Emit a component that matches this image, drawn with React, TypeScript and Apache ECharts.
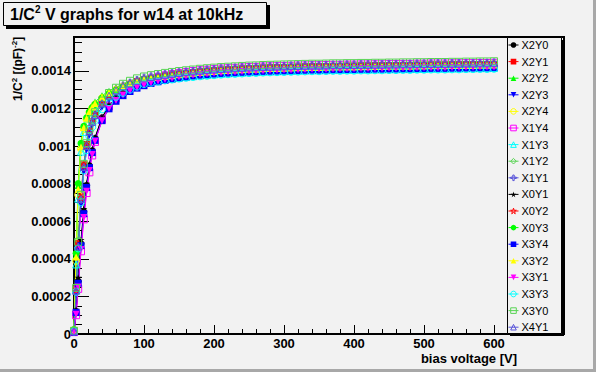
import React, { useEffect, useRef } from "react";
import * as echarts from "echarts";

// bias voltage [V]
const voltages = [
  0, 3, 6, 10, 14, 18, 22, 26, 30, 40, 50, 60, 70, 80, 90,
  100, 110, 120, 130, 140, 150, 160, 170, 180, 190,
  200, 210, 220, 230, 240, 250, 260, 270, 280, 290,
  300, 310, 320, 330, 340, 350, 360, 370, 380, 390,
  400, 410, 420, 430, 440, 450, 460, 470, 480, 490,
  500, 510, 520, 530, 540, 550, 560, 570, 580, 590,
  600,
];

// 1/C^2 values in units of 1e-6 (pF)^-2
const UNIT = 1e-6;

const X2Y0 = [12, 120, 280, 480, 650, 790, 895, 975, 1040, 1150, 1214, 1255, 1286, 1309, 1327,
  1337, 1349, 1358, 1366, 1373, 1379, 1384, 1389, 1392, 1396,
  1399, 1402, 1404, 1406, 1408, 1410, 1411, 1413, 1414, 1415,
  1416, 1417, 1418, 1419, 1420, 1420, 1421, 1422, 1422, 1423,
  1423, 1424, 1424, 1425, 1425, 1426, 1426, 1427, 1427, 1428,
  1428, 1429, 1429, 1429, 1430, 1430, 1431, 1431, 1432, 1432,
  1433];
const X2Y1 = [16, 240, 480, 730, 900, 1008, 1080, 1130, 1165, 1225, 1264, 1292, 1313, 1329, 1343,
  1354, 1360, 1367, 1373, 1378, 1383, 1387, 1391, 1394, 1398,
  1401, 1404, 1406, 1408, 1410, 1411, 1413, 1415, 1416, 1417,
  1418, 1419, 1420, 1421, 1422, 1422, 1423, 1424, 1424, 1425,
  1425, 1426, 1426, 1427, 1427, 1428, 1428, 1429, 1429, 1430,
  1430, 1431, 1431, 1431, 1432, 1432, 1433, 1433, 1434, 1434,
  1435];
const X2Y2 = [22, 420, 790, 1010, 1108, 1158, 1192, 1216, 1234, 1268, 1292, 1312, 1328, 1341, 1352,
  1362, 1367, 1371, 1376, 1380, 1385, 1389, 1393, 1397, 1400,
  1403, 1406, 1408, 1410, 1412, 1414, 1415, 1417, 1418, 1419,
  1420, 1421, 1422, 1423, 1424, 1424, 1425, 1426, 1426, 1427,
  1427, 1428, 1428, 1429, 1429, 1430, 1430, 1431, 1431, 1432,
  1432, 1433, 1433, 1433, 1434, 1434, 1435, 1435, 1436, 1436,
  1437];
const X2Y3 = [14, 210, 440, 690, 865, 980, 1058, 1110, 1147, 1208, 1248, 1276, 1297, 1313, 1328,
  1342, 1349, 1355, 1361, 1366, 1371, 1375, 1379, 1383, 1386,
  1389, 1392, 1394, 1396, 1398, 1400, 1401, 1403, 1404, 1405,
  1406, 1407, 1408, 1409, 1410, 1410, 1411, 1412, 1412, 1413,
  1413, 1414, 1414, 1415, 1415, 1416, 1416, 1417, 1417, 1418,
  1418, 1419, 1419, 1419, 1420, 1420, 1421, 1421, 1422, 1422,
  1423];
const X2Y4 = [20, 390, 740, 985, 1090, 1142, 1178, 1203, 1221, 1255, 1280, 1300, 1316, 1329, 1340,
  1354, 1359, 1363, 1368, 1372, 1377, 1381, 1385, 1389, 1392,
  1395, 1398, 1400, 1402, 1404, 1406, 1407, 1409, 1410, 1411,
  1412, 1413, 1414, 1415, 1416, 1416, 1417, 1418, 1418, 1419,
  1419, 1420, 1420, 1421, 1421, 1422, 1422, 1423, 1423, 1424,
  1424, 1425, 1425, 1425, 1426, 1426, 1427, 1427, 1428, 1428,
  1429];
const X1Y4 = [10, 100, 240, 440, 610, 750, 860, 950, 1022, 1140, 1210, 1254, 1287, 1312, 1332,
  1347, 1359, 1368, 1376, 1383, 1389, 1394, 1399, 1403, 1406,
  1409, 1412, 1414, 1416, 1418, 1420, 1421, 1423, 1424, 1425,
  1426, 1427, 1428, 1429, 1430, 1430, 1431, 1432, 1432, 1433,
  1433, 1434, 1434, 1435, 1435, 1436, 1436, 1437, 1437, 1438,
  1438, 1439, 1439, 1439, 1440, 1440, 1441, 1441, 1442, 1442,
  1443];
const X1Y3 = [18, 370, 720, 970, 1075, 1125, 1160, 1185, 1203, 1238, 1264, 1284, 1300, 1313, 1324,
  1340, 1345, 1349, 1354, 1358, 1363, 1367, 1371, 1375, 1378,
  1381, 1384, 1386, 1388, 1390, 1392, 1393, 1395, 1396, 1397,
  1398, 1399, 1400, 1401, 1402, 1402, 1403, 1404, 1404, 1405,
  1405, 1406, 1406, 1407, 1407, 1408, 1408, 1409, 1409, 1410,
  1410, 1411, 1411, 1411, 1412, 1412, 1413, 1413, 1414, 1414,
  1415];
const X1Y2 = [15, 250, 500, 745, 905, 1010, 1082, 1130, 1164, 1224, 1263, 1291, 1312, 1328, 1342,
  1353, 1360, 1366, 1372, 1377, 1382, 1386, 1390, 1394, 1397,
  1400, 1403, 1405, 1407, 1409, 1411, 1412, 1414, 1415, 1416,
  1417, 1418, 1419, 1420, 1421, 1421, 1422, 1423, 1423, 1424,
  1424, 1425, 1425, 1426, 1426, 1427, 1427, 1428, 1428, 1429,
  1429, 1430, 1430, 1430, 1431, 1431, 1432, 1432, 1433, 1433,
  1434];
const X1Y1 = [15, 220, 460, 715, 888, 1002, 1080, 1132, 1170, 1232, 1272, 1300, 1321, 1337, 1351,
  1364, 1371, 1377, 1383, 1388, 1393, 1397, 1401, 1405, 1408,
  1411, 1414, 1416, 1418, 1420, 1422, 1423, 1425, 1426, 1427,
  1428, 1429, 1430, 1431, 1432, 1432, 1433, 1434, 1434, 1435,
  1435, 1436, 1436, 1437, 1437, 1438, 1438, 1439, 1439, 1440,
  1440, 1441, 1441, 1441, 1442, 1442, 1443, 1443, 1444, 1444,
  1445];
const X0Y1 = [11, 130, 300, 500, 665, 800, 900, 980, 1045, 1152, 1216, 1257, 1288, 1311, 1329,
  1340, 1352, 1361, 1369, 1376, 1382, 1387, 1392, 1396, 1399,
  1402, 1405, 1407, 1409, 1411, 1413, 1414, 1416, 1417, 1418,
  1419, 1420, 1421, 1422, 1423, 1423, 1424, 1425, 1425, 1426,
  1426, 1427, 1427, 1428, 1428, 1429, 1429, 1430, 1430, 1431,
  1431, 1432, 1432, 1432, 1433, 1433, 1434, 1434, 1435, 1435,
  1436];
const X0Y2 = [16, 235, 475, 725, 895, 1005, 1079, 1130, 1167, 1228, 1268, 1296, 1317, 1333, 1346,
  1358, 1365, 1371, 1377, 1382, 1387, 1391, 1395, 1399, 1402,
  1405, 1408, 1410, 1412, 1414, 1416, 1417, 1419, 1420, 1421,
  1422, 1423, 1424, 1425, 1426, 1426, 1427, 1428, 1428, 1429,
  1429, 1430, 1430, 1431, 1431, 1432, 1432, 1433, 1433, 1434,
  1434, 1435, 1435, 1435, 1436, 1436, 1437, 1437, 1438, 1438,
  1439];
const X0Y3 = [24, 430, 800, 1015, 1105, 1150, 1182, 1205, 1222, 1255, 1279, 1298, 1314, 1327, 1338,
  1352, 1357, 1361, 1366, 1370, 1375, 1379, 1383, 1387, 1390,
  1393, 1396, 1398, 1400, 1402, 1404, 1405, 1407, 1408, 1409,
  1410, 1411, 1412, 1413, 1414, 1414, 1415, 1416, 1416, 1417,
  1417, 1418, 1418, 1419, 1419, 1420, 1420, 1421, 1421, 1422,
  1422, 1423, 1423, 1423, 1424, 1424, 1425, 1425, 1426, 1426,
  1427];
const X3Y4 = [10, 115, 270, 470, 640, 780, 885, 965, 1030, 1135, 1198, 1238, 1268, 1290, 1308,
  1321, 1333, 1342, 1350, 1357, 1363, 1368, 1373, 1377, 1380,
  1383, 1386, 1388, 1390, 1392, 1394, 1395, 1397, 1398, 1399,
  1400, 1401, 1402, 1403, 1404, 1404, 1405, 1406, 1406, 1407,
  1407, 1408, 1408, 1409, 1409, 1410, 1410, 1411, 1411, 1412,
  1412, 1413, 1413, 1413, 1414, 1414, 1415, 1415, 1416, 1416,
  1417];
const X3Y2 = [21, 410, 770, 995, 1098, 1148, 1184, 1208, 1226, 1260, 1285, 1305, 1321, 1334, 1345,
  1356, 1361, 1365, 1370, 1374, 1379, 1383, 1387, 1391, 1394,
  1397, 1400, 1402, 1404, 1406, 1408, 1409, 1411, 1412, 1413,
  1414, 1415, 1416, 1417, 1418, 1418, 1419, 1420, 1420, 1421,
  1421, 1422, 1422, 1423, 1423, 1424, 1424, 1425, 1425, 1426,
  1426, 1427, 1427, 1427, 1428, 1428, 1429, 1429, 1430, 1430,
  1431];
const X3Y1 = [10, 105, 250, 450, 620, 760, 870, 955, 1025, 1135, 1200, 1242, 1272, 1294, 1312,
  1325, 1337, 1346, 1354, 1361, 1367, 1372, 1377, 1381, 1384,
  1387, 1390, 1392, 1394, 1396, 1398, 1399, 1401, 1402, 1403,
  1404, 1405, 1406, 1407, 1408, 1408, 1409, 1410, 1410, 1411,
  1411, 1412, 1412, 1413, 1413, 1414, 1414, 1415, 1415, 1416,
  1416, 1417, 1417, 1417, 1418, 1418, 1419, 1419, 1420, 1420,
  1421];
const X3Y3 = [14, 225, 455, 700, 870, 978, 1050, 1100, 1135, 1195, 1234, 1262, 1283, 1300, 1316,
  1330, 1337, 1343, 1349, 1354, 1359, 1363, 1367, 1371, 1374,
  1377, 1380, 1382, 1384, 1386, 1388, 1389, 1391, 1392, 1393,
  1394, 1395, 1396, 1397, 1398, 1398, 1399, 1400, 1400, 1401,
  1401, 1402, 1402, 1403, 1403, 1404, 1404, 1405, 1405, 1406,
  1406, 1407, 1407, 1407, 1408, 1408, 1409, 1409, 1410, 1410,
  1411];
const X3Y0 = [17, 245, 490, 740, 905, 1015, 1090, 1142, 1180, 1242, 1282, 1310, 1331, 1347, 1360,
  1370, 1377, 1383, 1389, 1394, 1399, 1403, 1407, 1411, 1414,
  1417, 1420, 1422, 1424, 1426, 1428, 1429, 1431, 1432, 1433,
  1434, 1435, 1436, 1437, 1438, 1438, 1439, 1440, 1440, 1441,
  1441, 1442, 1442, 1443, 1443, 1444, 1444, 1445, 1445, 1446,
  1446, 1447, 1447, 1447, 1448, 1448, 1449, 1449, 1450, 1450,
  1451];
const X4Y1 = [15, 230, 465, 718, 888, 1000, 1076, 1128, 1165, 1228, 1268, 1296, 1317, 1333, 1347,
  1360, 1367, 1373, 1379, 1384, 1389, 1393, 1397, 1401, 1404,
  1407, 1410, 1412, 1414, 1416, 1418, 1419, 1421, 1422, 1423,
  1424, 1425, 1426, 1427, 1428, 1428, 1429, 1430, 1430, 1431,
  1431, 1432, 1432, 1433, 1433, 1434, 1434, 1435, 1435, 1436,
  1436, 1437, 1437, 1437, 1438, 1438, 1439, 1439, 1440, 1440,
  1441];

const seriesNames = [
  "X2Y0", "X2Y1", "X2Y2", "X2Y3", "X2Y4", "X1Y4", "X1Y3", "X1Y2", "X1Y1",
  "X0Y1", "X0Y2", "X0Y3", "X3Y4", "X3Y2", "X3Y1", "X3Y3", "X3Y0", "X4Y1",
];
const seriesValues = [
  X2Y0, X2Y1, X2Y2, X2Y3, X2Y4, X1Y4, X1Y3, X1Y2, X1Y1,
  X0Y1, X0Y2, X0Y3, X3Y4, X3Y2, X3Y1, X3Y3, X3Y0, X4Y1,
];

const yTickLabels = ["0", "0.0002", "0.0004", "0.0006", "0.0008", "0.001", "0.0012", "0.0014"];
const xTickLabels = ["0", "100", "200", "300", "400", "500", "600"];

// ROOT colour cycle 1..9 and marker cycle 20..30
const palette = ["#000000", "#ff0000", "#00ff00", "#0000ff", "#ffff00", "#ff00ff", "#00ffff", "#59d454", "#5954d9"];
const CROSS = "path://M3,0H5V3H8V5H5V8H3V5H0V3H3Z";
const STAR = "path://M5,0L6.2,3.5H10L7,5.8L8.1,9.5L5,7.2L1.9,9.5L3,5.8L0,3.5H3.8Z";
const markers: { symbol: string; open: boolean; rotate: number }[] = [
  { symbol: "circle", open: false, rotate: 0 },
  { symbol: "rect", open: false, rotate: 0 },
  { symbol: "triangle", open: false, rotate: 0 },
  { symbol: "triangle", open: false, rotate: 180 },
  { symbol: "circle", open: true, rotate: 0 },
  { symbol: "rect", open: true, rotate: 0 },
  { symbol: "triangle", open: true, rotate: 0 },
  { symbol: "diamond", open: true, rotate: 0 },
  { symbol: CROSS, open: true, rotate: 0 },
  { symbol: STAR, open: false, rotate: 0 },
  { symbol: STAR, open: true, rotate: 0 },
];

const FONT = "'Liberation Sans', Arial, Helvetica, sans-serif";
const BG = "#f2f2f2";

function markerStyle(i: number) {
  const color = palette[i % palette.length];
  const m = markers[i % markers.length];
  const itemStyle = m.open
    ? { color: "rgba(0,0,0,0)", borderColor: color, borderWidth: 1 }
    : { color, borderColor: color, borderWidth: 0 };
  return { color, m, itemStyle };
}

export default function App() {
  const ref = useRef<HTMLDivElement>(null);
  useEffect(() => {
    if (!ref.current) return;
    const chart = echarts.init(ref.current, null, { renderer: "svg" });

    const series = seriesNames.map((name, i) => {
      const { color, m, itemStyle } = markerStyle(i);
      return {
        name,
        type: "line",
        data: voltages.map((v, k) => [v, seriesValues[i][k] * UNIT]),
        symbol: m.symbol,
        symbolSize: 7,
        symbolRotate: m.rotate,
        showAllSymbol: true,
        lineStyle: { color, width: 1 },
        itemStyle,
        emphasis: { disabled: true },
        silent: true,
        z: 2,
      };
    });

    const legendData = seriesNames.map((name, i) => {
      const { color, itemStyle } = markerStyle(i);
      return {
        name,
        itemStyle,
        lineStyle: { color, width: 1 },
      };
    });

    chart.setOption({
      animation: false,
      backgroundColor: BG,
      grid: {
        left: 74,
        top: 37,
        width: 490,
        height: 297,
        show: true,
        borderColor: "#000",
        borderWidth: 2,
        backgroundColor: BG,
      },
      xAxis: {
        type: "value",
        min: 0,
        max: 700,
        interval: 100,
        axisLine: { show: true, lineStyle: { color: "#000", width: 2 } },
        axisTick: { show: true, inside: true, length: 9, lineStyle: { color: "#000" } },
        minorTick: { show: true, splitNumber: 5, length: 5, lineStyle: { color: "#000" } },
        splitLine: { show: false },
        axisLabel: {
          margin: 3,
          color: "#000",
          fontFamily: FONT,
          fontWeight: "bold",
          fontSize: 13,
          formatter: (v: number) => (xTickLabels.includes(String(v)) ? String(v) : ""),
        },
      },
      yAxis: {
        type: "value",
        min: 0,
        max: 0.00158,
        interval: 0.0002,
        axisLine: { show: true, lineStyle: { color: "#000", width: 2 } },
        axisTick: { show: true, inside: true, length: 15, lineStyle: { color: "#000" } },
        minorTick: { show: true, splitNumber: 4, length: 8, lineStyle: { color: "#000" } },
        splitLine: { show: false },
        axisLabel: {
          margin: 3,
          color: "#000",
          fontFamily: FONT,
          fontWeight: "bold",
          fontSize: 13,
          showMaxLabel: false,
          formatter: (v: number) => {
            const idx = Math.round(v / 0.0002);
            if (Math.abs(v - idx * 0.0002) > 1e-9) return "";
            return yTickLabels[idx] ?? "";
          },
        },
      },
      legend: {
        orient: "vertical",
        left: 508,
        top: 39,
        padding: 0,
        itemWidth: 10,
        itemHeight: 7,
        itemGap: 4.6,
        selectedMode: false,
        z: 20,
        textStyle: { fontFamily: FONT, fontSize: 11, color: "#000", lineHeight: 12, padding: [0, 0, 0, -2] },
        data: legendData,
      },
      graphic: [
        // canvas bevel
        { type: "rect", z: 30, shape: { x: 593, y: 0, width: 3, height: 372 }, style: { fill: "#a8a8a8" } },
        { type: "rect", z: 30, shape: { x: 0, y: 369, width: 596, height: 3 }, style: { fill: "#a8a8a8" } },
        // title box
        { type: "rect", z: 10, shape: { x: 6, y: 5, width: 264, height: 24 }, style: { fill: "#000" } },
        { type: "rect", z: 11, shape: { x: 3.5, y: 2.5, width: 263, height: 23 }, style: { fill: BG, stroke: "#000", lineWidth: 1 } },
        {
          type: "text",
          z: 12,
          x: 10,
          y: 14,
          style: {
            text: "{a|1/C}{s|2}{a| V graphs for w14 at 10kHz}",
            verticalAlign: "middle",
            align: "left",
            rich: {
              a: { fontFamily: FONT, fontWeight: "bold", fontSize: 16, lineHeight: 20, fill: "#000" },
              s: { fontFamily: FONT, fontWeight: "bold", fontSize: 10, lineHeight: 10, verticalAlign: "top", fill: "#000" },
            },
          },
        },
        // legend box
        { type: "rect", z: 15, shape: { x: 510, y: 40, width: 54, height: 296 }, style: { fill: "#000" } },
        { type: "rect", z: 16, shape: { x: 507.5, y: 37.5, width: 54, height: 296 }, style: { fill: BG, stroke: "#000", lineWidth: 1 } },
        // axis titles
        {
          type: "text",
          z: 12,
          x: 517,
          y: 358,
          style: {
            text: "bias voltage [V]",
            align: "right",
            verticalAlign: "middle",
            fontFamily: FONT,
            fontWeight: "bold",
            fontSize: 13,
            fill: "#000",
          },
        },
        {
          type: "text",
          z: 12,
          x: 18,
          y: 101,
          rotation: Math.PI / 2,
          style: {
            text: "{a|1/C}{s|2}{a| [(pF)}{s|-2}{a|]}",
            align: "left",
            verticalAlign: "middle",
            rich: {
              a: { fontFamily: FONT, fontWeight: "bold", fontSize: 12, lineHeight: 15, fill: "#000" },
              s: { fontFamily: FONT, fontWeight: "bold", fontSize: 8, lineHeight: 8, verticalAlign: "top", fill: "#000" },
            },
          },
        },
      ],
      series,
    });
    return () => chart.dispose();
  }, []);
  return (
    <div
      ref={ref}
      style={{ position: "fixed", left: 0, top: 0, width: 596, height: 372 }}
    />
  );
}
